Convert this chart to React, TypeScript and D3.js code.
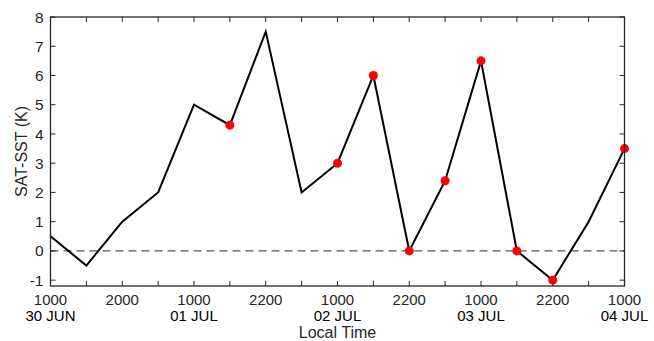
import { useEffect, useRef } from 'react';
import * as d3 from 'd3';

// SAT-SST values (K), one per 6-hourly-ish sample
const valores = [0.5, -0.5, 1, 2, 5, 4.3, 7.5, 2, 3, 6, 0, 2.4, 6.5, 0, -1, 1, 3.5];
// which samples are marked with a red dot
const marcados = [5, 8, 9, 10, 11, 12, 13, 14, 16];
// tick labels (every second sample)
const horas = ['1000', '2000', '1000', '2200', '1000', '2200', '1000', '2200', '1000'];
const fechas = ['30 JUN', '', '01 JUL', '', '02 JUL', '', '03 JUL', '', '04 JUL'];
const yTicks = [-1, 0, 1, 2, 3, 4, 5, 6, 7, 8];

const width = 654;
const height = 341;

export default function App() {
  const ref = useRef<SVGSVGElement>(null);
  useEffect(() => {
    const margin = { top: 17, right: 29.5, bottom: 55, left: 50.5 };
    const svg = d3.select(ref.current);
    svg.selectAll('*').remove();
    const font = '"Liberation Sans", Arial, Helvetica, sans-serif';

    const x = d3.scaleLinear()
      .domain([0, valores.length - 1])
      .range([margin.left, width - margin.right]);
    const y = d3.scaleLinear()
      .domain([-1.2, 8])
      .range([height - margin.bottom, margin.top]);

    const x0 = margin.left, x1 = width - margin.right;
    const y0 = height - margin.bottom, y1 = margin.top;
    const tl = 5;

    // linea cero
    svg.append('line')
      .attr('x1', x0).attr('x2', x1)
      .attr('y1', y(0)).attr('y2', y(0))
      .attr('stroke', '#555')
      .attr('stroke-width', 1.3)
      .attr('stroke-dasharray', '8,5');

    // serie
    const line = d3.line<number>()
      .x((_, i) => x(i))
      .y(d => y(d));
    svg.append('path')
      .datum(valores)
      .attr('d', line)
      .attr('fill', 'none')
      .attr('stroke', '#000')
      .attr('stroke-width', 2);

    // puntos rojos
    svg.append('g')
      .selectAll('circle')
      .data(marcados)
      .join('circle')
      .attr('cx', i => x(i))
      .attr('cy', i => y(valores[i]))
      .attr('r', 4.5)
      .attr('fill', '#ff0000');

    // marco
    svg.append('rect')
      .attr('x', x0).attr('y', y1)
      .attr('width', x1 - x0).attr('height', y0 - y1)
      .attr('fill', 'none')
      .attr('stroke', '#262626')
      .attr('stroke-width', 1.3);

    // ticks x (abajo y arriba)
    const gx = svg.append('g');
    d3.range(valores.length).forEach(i => {
      gx.append('line').attr('x1', x(i)).attr('x2', x(i)).attr('y1', y0).attr('y2', y0 - tl).attr('stroke', '#262626').attr('stroke-width', 1);
      gx.append('line').attr('x1', x(i)).attr('x2', x(i)).attr('y1', y1).attr('y2', y1 + tl).attr('stroke', '#262626').attr('stroke-width', 1);
    });
    horas.forEach((h, k) => {
      const i = k * 2;
      gx.append('text')
        .attr('x', x(i))
        .attr('y', 305)
        .attr('text-anchor', 'middle')
        .attr('font-family', font)
        .attr('font-size', 15)
        .attr('fill', '#262626')
        .text(h);
      if (fechas[k]) {
        gx.append('text')
          .attr('x', x(i))
          .attr('y', 321)
          .attr('text-anchor', 'middle')
          .attr('font-family', font)
          .attr('font-size', 15)
          .attr('fill', '#000')
          .text(fechas[k]);
      }
    });

    // ticks y (izquierda y derecha)
    const gy = svg.append('g');
    yTicks.forEach(v => {
      gy.append('line').attr('x1', x0).attr('x2', x0 + tl).attr('y1', y(v)).attr('y2', y(v)).attr('stroke', '#262626');
      gy.append('line').attr('x1', x1).attr('x2', x1 - tl).attr('y1', y(v)).attr('y2', y(v)).attr('stroke', '#262626');
      gy.append('text')
        .attr('x', x0 - 7)
        .attr('y', y(v))
        .attr('dy', '0.36em')
        .attr('text-anchor', 'end')
        .attr('font-family', font)
        .attr('font-size', 15.5)
        .attr('fill', '#262626')
        .text(v);
    });

    // etiquetas de ejes
    svg.append('text')
      .attr('x', (x0 + x1) / 2)
      .attr('y', 338)
      .attr('text-anchor', 'middle')
      .attr('font-family', font)
      .attr('font-size', 16)
      .attr('fill', '#262626')
      .text('Local Time');
    svg.append('text')
      .attr('transform', `translate(27,${(y0 + y1) / 2}) rotate(-90)`)
      .attr('text-anchor', 'middle')
      .attr('font-family', font)
      .attr('font-size', 16)
      .attr('fill', '#262626')
      .text('SAT-SST (K)');
  }, []);

  return (
    <svg ref={ref} width={width} height={height}
      style={{ display: 'block', position: 'absolute', left: 0, top: 0, background: '#fff' }} />
  );
}
